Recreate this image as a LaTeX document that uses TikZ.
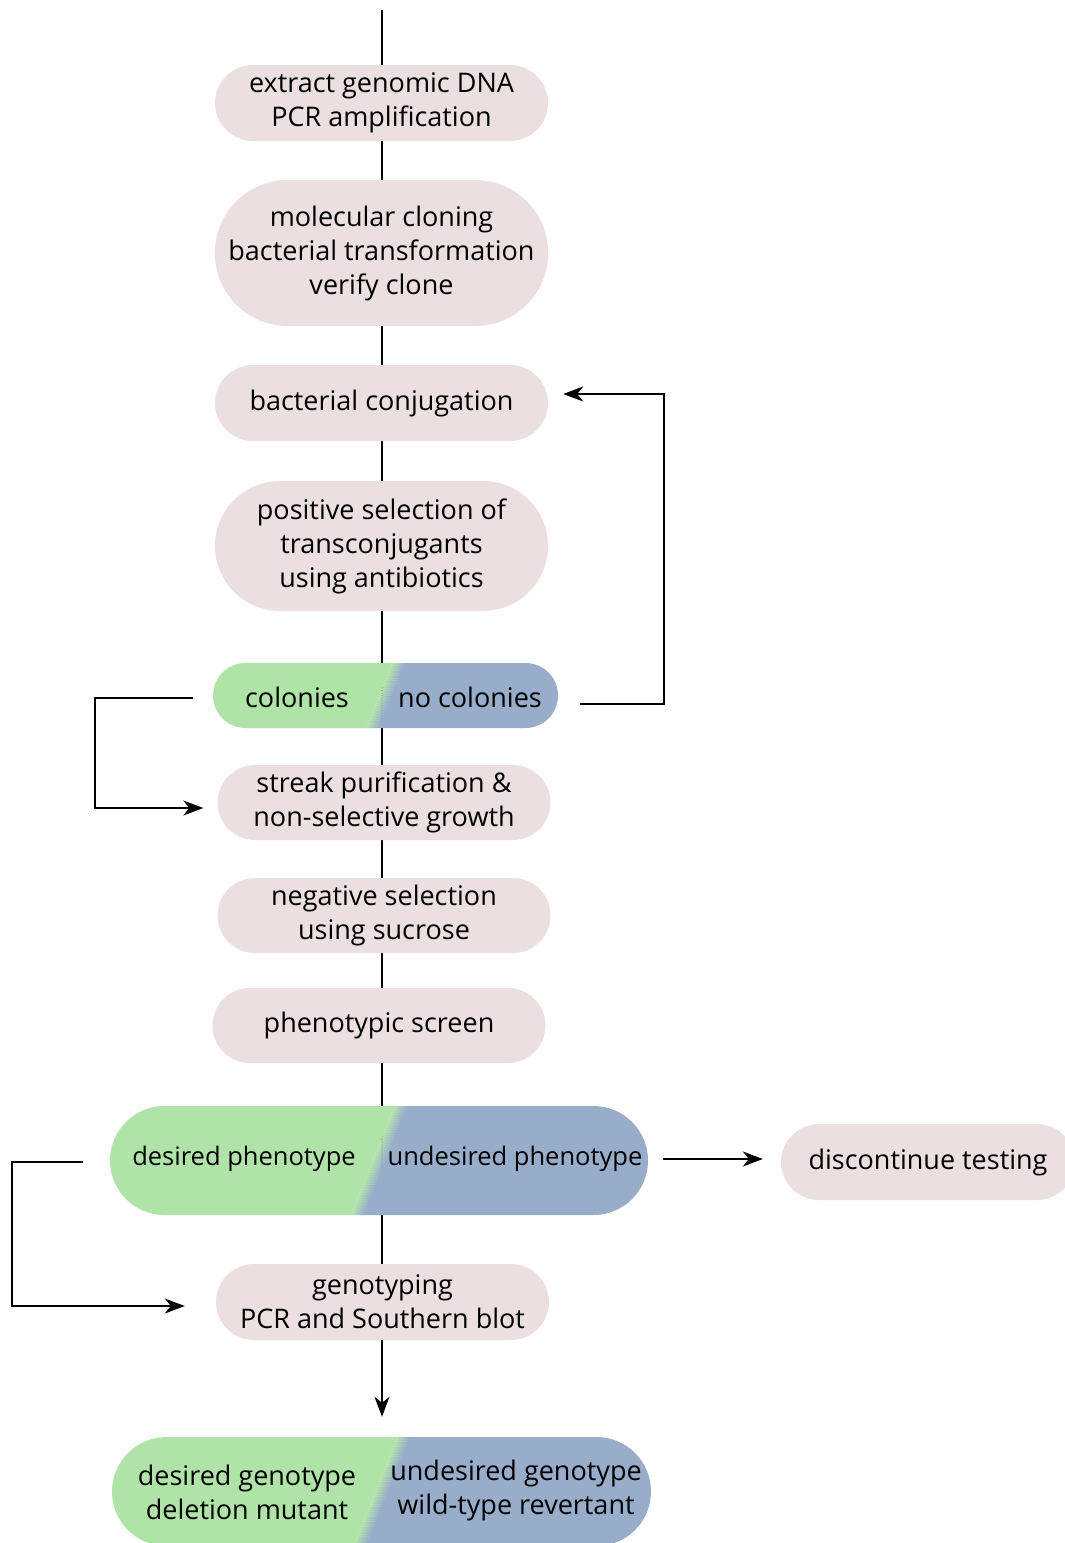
\documentclass[tikz,border=0pt]{standalone}
\usepackage{fontspec}
\setmainfont{Open Sans}
\usetikzlibrary{shapes.misc,arrows.meta,backgrounds}
\definecolor{boxpink}{RGB}{235,223,224}
\definecolor{goodgreen}{RGB}{176,227,168}
\definecolor{badblue}{RGB}{151,173,201}
\begin{document}
\begin{tikzpicture}[x=1pt,y=-1pt]
\tikzstyle{every node} = [font=\fontsize{27}{34}\selectfont]
\tikzstyle{stepbox} = [rounded rectangle,fill=boxpink,minimum width=333,minimum height=76,align=center,inner sep=0]
\tikzstyle{splitbox} = [rounded rectangle,minimum height=109,inner sep=0,
  path picture={
    \begin{scope}[shift={(path picture bounding box.center)}]
      \fill[goodgreen] (-500,-80) -- (26,-80) -- (-38,80) -- (-500,80) -- cycle;
      \fill[badblue] (38,-80) -- (500,-80) -- (500,80) -- (-26,80) -- cycle;
      \foreach \i in {0,...,11} {
        \pgfmathsetmacro\pc{100-\i*8.33}
        \fill[goodgreen!\pc!badblue] (26+\i,-80) -- (27.2+\i,-80) -- (-36.8+\i,80) -- (-38+\i,80) -- cycle;
      }
    \end{scope}}]
\tikzstyle{small} = [font=\fontsize{25.5}{34}\selectfont]
\tikzstyle{arr} = [-{Stealth[length=20pt,width=15pt,inset=6pt]},line width=1.5]
\useasboundingbox (0,0) rectangle (1065,1543);
\coordinate (top) at (382,10);
\node[stepbox] (extract) at (381.5,103) {extract genomic DNA\\PCR amplification};
\node[stepbox,minimum height=146,inner xsep=-4] (cloning) at (381.5,253) {molecular cloning\\bacterial transformation\\verify clone};
\node[stepbox] (conj) at (381.5,403) {bacterial conjugation};
\node[stepbox,minimum height=130] (possel) at (381.5,546) {positive selection of\\transconjugants\\using antibiotics};
\node[splitbox,minimum width=345,minimum height=65] (colsplit) at (385.5,695.5) {};
\node (col) at (297,697) {colonies};
\node (nocol) at (470,697) {no colonies};
\node[stepbox,minimum height=75] (streak) at (384,802.5) {streak purification \&\\non-selective growth};
\node[stepbox,minimum height=75] (negsel) at (384,915.5) {negative selection\\using sucrose};
\node[stepbox,minimum height=75] (screen) at (379,1025.5) {phenotypic screen};
\node[splitbox,minimum width=538] (phenosplit) at (379,1160.5) {};
\node[small] (despheno) at (244,1159) {desired phenotype};
\node[small] (undespheno) at (515,1159) {undesired phenotype};
\node[stepbox,minimum width=294] (discont) at (928,1162) {discontinue testing};
\node[stepbox] (genotyping) at (382.5,1302) {genotyping\\PCR and Southern blot};
\node[splitbox,minimum width=539] (genosplit) at (381.5,1491.5) {};
\node[align=center] (desgeno) at (247,1492) {desired genotype\\deletion mutant};
\node[align=center] (undesgeno) at (516,1490) {undesired genotype\\wild-type revertant};
\begin{scope}[on background layer]
\draw[line width=1.5] (top) -- (top |- genotyping.center);
\end{scope}
\draw[arr] (top |- genotyping.south) -- ([shift={(0,-20)}]top |- genosplit.north);
\coordinate (loopR) at (664,394);
\draw[arr] ([shift={(22,8.5)}]colsplit.east) -| (loopR) -- ([shift={(15,-9)}]conj.east);
\coordinate (loopL) at (95,808);
\draw[arr] ([shift={(-20,2.5)}]colsplit.west) -| (loopL) -- ([shift={(-14,5.5)}]streak.west);
\draw[arr] ([shift={(15,-1.5)}]phenosplit.east) -- ([shift={(-18,-3)}]discont.west);
\coordinate (loopP) at (12,1306);
\draw[arr] ([shift={(-27,1.5)}]phenosplit.west) -| (loopP) -- ([shift={(-31,4)}]genotyping.west);
\end{tikzpicture}
\end{document}
